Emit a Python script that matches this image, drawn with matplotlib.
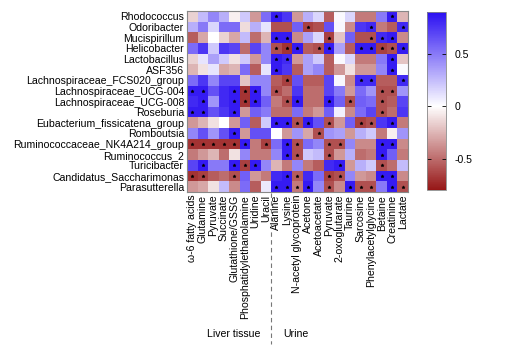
import numpy as np
import matplotlib
matplotlib.use("Agg")
import matplotlib.pyplot as plt
from matplotlib.colors import LinearSegmentedColormap, Normalize
from matplotlib.lines import Line2D

plt.rcParams['font.family'] = ['Liberation Sans', 'DejaVu Sans']

rows = ["Rhodococcus", "Odoribacter", "Mucispirillum", "Helicobacter", "Lactobacillus",
        "ASF356", "Lachnospiraceae_FCS020_group", "Lachnospiraceae_UCG-004",
        "Lachnospiraceae_UCG-008", "Roseburia", "Eubacterium_fissicatena_group",
        "Romboutsia", "Ruminococcaceae_NK4A214_group", "Ruminococcus_2",
        "Turicibacter", "Candidatus_Saccharimonas", "Parasutterella"]

cols = ["ω-6 fatty acids", "Glutamine", "Pyruvate", "Succinate", "Glutathione/GSSG",
        "Phosphatidylethanolamine", "Uridine", "Uracil", "Alanine", "Lysine",
        "N-acetyl glycoprotein", "Acetone", "Acetoacetate", "Pyruvate", "2-oxoglutarate",
        "Taurine", "Sarcosine", "Phenylacetylglycine", "Betaine", "Creatinine", "Lactate"]

r_rhodococcus = [-0.15, 0.25, 0.45, 0.3, -0.05, 0.2, -0.35, 0.55, 0.85, 0.75, -0.35, 0.3, 0.15, -0.55, 0.02, 0.15, -0.45, -0.45, 0.5, 0.85, -0.25]
r_odoribacter = [0.3, 0.5, 0.15, 0.55, 0.55, -0.12, 0.3, 0.1, -0.6, -0.6, 0.6, -0.65, -0.6, 0.65, 0.03, -0.4, 0.75, 0.8, -0.45, -0.55, 0.8]
r_mucispirillum = [-0.55, -0.3, 0.0, -0.15, -0.3, 0.25, -0.5, -0.25, 0.85, 0.85, -0.4, 0.35, 0.15, -0.65, -0.2, 0.6, -0.6, -0.6, 0.8, 0.85, -0.4]
r_helicobacter = [0.55, 0.75, 0.2, 0.75, 0.7, -0.5, 0.7, 0.45, -0.6, -0.7, 0.85, -0.55, -0.6, 0.85, 0.35, -0.55, 0.85, 0.85, -0.65, -0.6, 0.85]
r_lactobacillus = [-0.15, 0.1, 0.35, 0.2, -0.1, 0.2, -0.35, 0.45, 0.85, 0.8, -0.35, 0.35, 0.2, -0.55, 0.02, 0.15, -0.45, -0.45, 0.5, 0.85, -0.2]
r_asf356 = [-0.25, -0.1, 0.1, -0.3, -0.25, 0.55, -0.55, 0.1, 0.85, 0.75, -0.55, 0.35, 0.45, -0.55, -0.35, -0.1, -0.35, -0.35, 0.45, 0.85, 0.02]
r_fcs020 = [0.55, 0.75, 0.45, 0.7, 0.7, -0.2, 0.45, 0.45, -0.55, -0.65, 0.65, -0.55, -0.55, 0.7, 0.03, -0.4, 0.8, 0.8, -0.55, -0.55, 0.8]
r_ucg004 = [0.85, 0.85, 0.65, 0.8, 0.85, -0.7, 0.85, 0.45, -0.6, -0.5, 0.75, -0.5, -0.5, 0.7, 0.5, -0.35, 0.55, 0.4, -0.6, -0.6, 0.4]
r_ucg008 = [0.8, 0.85, 0.4, 0.8, 0.85, -0.7, 0.85, 0.6, -0.45, -0.6, 0.85, -0.5, -0.5, 0.85, 0.6, -0.6, 0.6, 0.55, -0.6, -0.55, 0.7]
r_roseburia = [0.85, 0.85, 0.65, 0.75, 0.85, -0.35, 0.6, 0.5, -0.5, -0.5, 0.55, -0.45, -0.35, 0.6, 0.05, -0.4, 0.55, 0.7, -0.6, -0.5, 0.75]
r_eubacterium = [-0.35, -0.25, -0.1, 0.0, -0.35, 0.6, -0.55, 0.2, 0.85, 0.85, -0.6, 0.85, 0.65, -0.6, -0.35, 0.6, -0.65, -0.6, 0.75, 0.85, -0.45]
r_romboutsia = [0.45, 0.65, 0.4, 0.65, 0.85, -0.35, 0.65, 0.65, 0.0, -0.35, 0.4, -0.3, -0.6, 0.4, 0.35, -0.35, 0.3, 0.2, -0.45, -0.05, 0.4]
r_nk4a214 = [-0.7, -0.7, -0.7, -0.7, -0.7, 0.85, -0.45, -0.65, 0.55, 0.85, -0.6, 0.55, 0.45, -0.6, -0.6, 0.45, -0.4, -0.4, 0.85, 0.85, -0.4]
r_ruminococcus2 = [-0.45, -0.35, -0.25, -0.5, -0.1, 0.45, -0.45, -0.45, 0.45, 0.85, -0.6, 0.2, 0.25, -0.6, -0.35, 0.3, -0.5, -0.45, 0.85, 0.6, -0.45]
r_turicibacter = [0.7, 0.85, 0.5, 0.5, 0.85, -0.65, 0.85, 0.45, -0.25, -0.45, 0.45, -0.45, -0.55, 0.8, 0.85, -0.35, 0.3, 0.2, -0.6, -0.5, 0.25]
r_saccharimonas = [-0.7, -0.65, -0.55, -0.5, -0.6, 0.6, -0.35, -0.45, 0.8, 0.85, -0.55, 0.8, 0.55, -0.65, -0.6, 0.45, -0.35, -0.4, 0.85, 0.85, -0.4]
r_parasutterella = [-0.35, -0.3, -0.1, 0.25, -0.4, 0.55, -0.55, 0.08, 0.85, 0.85, -0.45, 0.85, 0.45, -0.6, -0.4, 0.85, -0.6, -0.6, 0.5, 0.85, -0.6]

# significance stars: column indices per row
stars = [
    [8, 19],
    [11, 17, 20],
    [8, 9, 13, 17, 18, 19],
    [8, 9, 10, 12, 13, 16, 17, 18, 19, 20],
    [8, 9, 19],
    [8, 19],
    [9, 16, 17, 20],
    [0, 1, 4, 5, 6, 8, 18, 19],
    [1, 4, 5, 6, 9, 10, 13, 15, 18],
    [0, 1, 4, 18],
    [8, 9, 10, 11, 13, 16, 17, 19],
    [4, 12],
    [0, 1, 2, 3, 4, 5, 7, 9, 10, 13, 14, 18, 19],
    [9, 10, 13, 18],
    [1, 4, 5, 6, 14, 18],
    [0, 1, 4, 9, 10, 13, 14, 18, 19],
    [8, 9, 10, 11, 13, 15, 16, 17, 19, 20],
]

cbar_ticks = [-0.5, 0, 0.5]
cbar_ticklabels = ["-0.5", "0", "0.5"]
group_labels = ["Liver tissue", "Urine"]
n_liver = 8

data = np.array([r_rhodococcus, r_odoribacter, r_mucispirillum, r_helicobacter,
                 r_lactobacillus, r_asf356, r_fcs020, r_ucg004, r_ucg008, r_roseburia,
                 r_eubacterium, r_romboutsia, r_nk4a214, r_ruminococcus2,
                 r_turicibacter, r_saccharimonas, r_parasutterella])

W, H = 506, 354
fig = plt.figure(figsize=(W / 100, H / 100), dpi=100)

vmin, vmax = -0.8, 0.9
wpos = (0 - vmin) / (vmax - vmin)
cmap = LinearSegmentedColormap.from_list(
    "rwb", [(0.0, "#961616"), (wpos, "#ffffff"), (1.0, "#2a0ff2")])
norm = Normalize(vmin=vmin, vmax=vmax)

def fx(px):
    return px / W

def fy(py):
    return 1 - py / H

FS = 7.6
L, R, T, B = 187, 408, 11, 192
ax = fig.add_axes([fx(L), fy(B), fx(R) - fx(L), fy(T) - fy(B)])
im = ax.imshow(data, cmap=cmap, norm=norm, aspect="auto", interpolation="nearest")

for i, cl in enumerate(stars):
    ax.plot(cl, [i] * len(cl), linestyle="none", marker=(5, 1, 0),
            markersize=2.4, color="black", markeredgewidth=0.3)

ax.set_xticks(range(len(cols)))
ax.set_xticklabels(cols, rotation=90, fontsize=FS, va="top", ha="center")
ax.set_yticks(range(len(rows)))
ax.set_yticklabels(rows, fontsize=FS)
ax.tick_params(length=0, pad=2)
for s in ax.spines.values():
    s.set_color("#888888")
    s.set_linewidth(0.8)

cax = fig.add_axes([fx(427), fy(190), fx(446) - fx(427), fy(12) - fy(190)])
cb = fig.colorbar(im, cax=cax, ticks=cbar_ticks)
cb.ax.set_yticklabels(cbar_ticklabels, fontsize=FS)
cb.ax.tick_params(length=3, width=0.6, direction="in", left=True, right=True, pad=6)
cb.outline.set_edgecolor("#888888")
cb.outline.set_linewidth(0.6)

# group labels and separator
fig.text(fx(234), fy(334), group_labels[0], ha="center", va="center", fontsize=FS)
fig.text(fx(296), fy(334), group_labels[1], ha="center", va="center", fontsize=FS)
xsep = L + (R - L) * n_liver / len(cols)
fig.add_artist(Line2D([fx(xsep), fx(xsep)], [fy(193), fy(344)], transform=fig.transFigure,
                      color="#777777", linewidth=0.8, linestyle=(0, (4, 3))))

fig.savefig("out.png", dpi=100)
